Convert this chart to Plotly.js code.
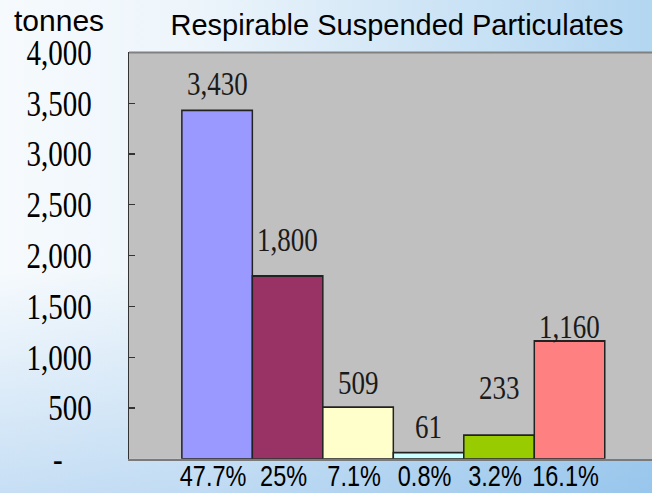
<!DOCTYPE html>
<html>
<head>
<meta charset="utf-8">
<script src="https://cdn.plot.ly/plotly-3.0.1.min.js"></script>
<style>
  html, body { margin: 0; padding: 0; }
  body {
    width: 652px; height: 493px; overflow: hidden;
    background:
      linear-gradient(to bottom, rgba(255,255,255,0) 55%, rgba(90,160,225,0.30) 100%),
      linear-gradient(to right, #f6fafd 0%, #edf5fb 30%, #cfe5f6 65%, #b3d6f1 100%);
  }
  /* the reference's tick and value text is drawn tall and narrow: the chart is laid out at 404px high and stretched to 493px */
  #chart { width: 652px; height: 404px; transform: scaleY(1.2203); transform-origin: 0 0; }
</style>
</head>
<body>
<div id="chart"></div>
<script>
// ---- data ----
const categories = ["47.7%", "25%", "7.1%", "0.8%", "3.2%", "16.1%"];
const values = [3430, 1800, 509, 61, 233, 1160];
const valueLabels = ["3,430", "1,800", "509", "61", "233", "1,160"];
const barColors = ["#9999FF", "#993366", "#FFFFCC", "#CCFFFF", "#99CC00", "#FF8080"];
const yTickVals = [0, 500, 1000, 1500, 2000, 2500, 3000, 3500, 4000];
const yTickText = ["-\u00A0\u00A0\u00A0\u00A0", "500", "1,000", "1,500", "2,000", "2,500", "3,000", "3,500", "4,000"];
// label placement (style): pixel offset of each value label above its bar top
const labelShift = [21, 29.5, 19.7, 20.5, 38.5, 11.5];

const S = 1.2203;
const H = 404;
const xIdx = categories.map((c, i) => i);

const trace = {
  type: "bar",
  x: xIdx,
  y: values,
  marker: { color: barColors, line: { color: "#222222", width: 1.5 } },
  hoverinfo: "skip",
  showlegend: false
};

const annotations = values.map((v, i) => ({
  x: i, y: v, xref: "x", yref: "y",
  text: valueLabels[i],
  showarrow: false,
  yanchor: "middle",
  yshift: labelShift[i],
  font: { family: "Liberation Serif, Times New Roman, serif", size: 27, color: "#1a1a1a" }
}));

const plotTop = 42.6, plotBottom = 27.9;
const plotH = H - plotTop - plotBottom;

annotations.push({
  xref: "paper", yref: "paper",
  x: (59 - 129) / 523,
  y: 1 + (plotTop - 19.5 / S) / plotH,
  xanchor: "center", yanchor: "middle",
  text: "tonnes", showarrow: false,
  font: { family: "Liberation Sans, Arial, sans-serif", size: 30, color: "#000" }
});

const layout = {
  width: 652,
  height: H,
  margin: { l: 129, r: 0, t: plotTop, b: plotBottom, pad: 0 },
  paper_bgcolor: "rgba(0,0,0,0)",
  plot_bgcolor: "#C0C0C0",
  bargap: 0,
  title: {
    text: "Respirable Suspended Particulates",
    font: { family: "Liberation Sans, Arial, sans-serif", size: 29, color: "#000" },
    x: 397 / 652, xanchor: "center",
    y: 1 - (25 / S) / H, yanchor: "middle",
    xref: "container", yref: "container"
  },
  xaxis: {
    range: [-1.25, 6.17],
    tickvals: xIdx,
    ticktext: categories,
    ticks: "",
    ticklabelstandoff: -8,
    ticklabelshift: -4,
    showgrid: false,
    zeroline: false,
    showline: true,
    linecolor: "#7a7a7a",
    linewidth: 2,
    tickfont: { family: "Liberation Sans, Arial, sans-serif", size: 23.5, color: "#000" },
    fixedrange: true
  },
  yaxis: {
    range: [0, 4000],
    tickvals: yTickVals,
    ticktext: yTickText,
    ticks: "inside",
    ticklen: 6,
    tickcolor: "#333",
    tickwidth: 1,
    showgrid: false,
    zeroline: false,
    showline: true,
    linecolor: "#333",
    linewidth: 1.5,
    ticklabelstandoff: 30,
    tickfont: { family: "Liberation Serif, Times New Roman, serif", size: 29, color: "#000" },
    fixedrange: true
  },
  shapes: [{
    type: "line", xref: "paper", yref: "paper",
    x0: 0, x1: 1, y0: 1, y1: 1,
    line: { color: "#808080", width: 1.5 }
  }],
  annotations: annotations
};

Plotly.newPlot("chart", [trace], layout, { displayModeBar: false, staticPlot: true }).then(() => {
  // the title and the unit label are not stretched in the reference: undo the vertical stretch on them
  const unstretch = (el) => {
    if (!el) return;
    el.style.transformBox = "fill-box";
    el.style.transformOrigin = "center";
    el.style.transform = "scaleY(" + (1 / S) + ")";
  };
  unstretch(document.querySelector("#chart .gtitle"));
  const anns = document.querySelectorAll("#chart g.annotation");
  if (anns.length > 6) unstretch(anns[6].querySelector("text"));
});
</script>
</body>
</html>
